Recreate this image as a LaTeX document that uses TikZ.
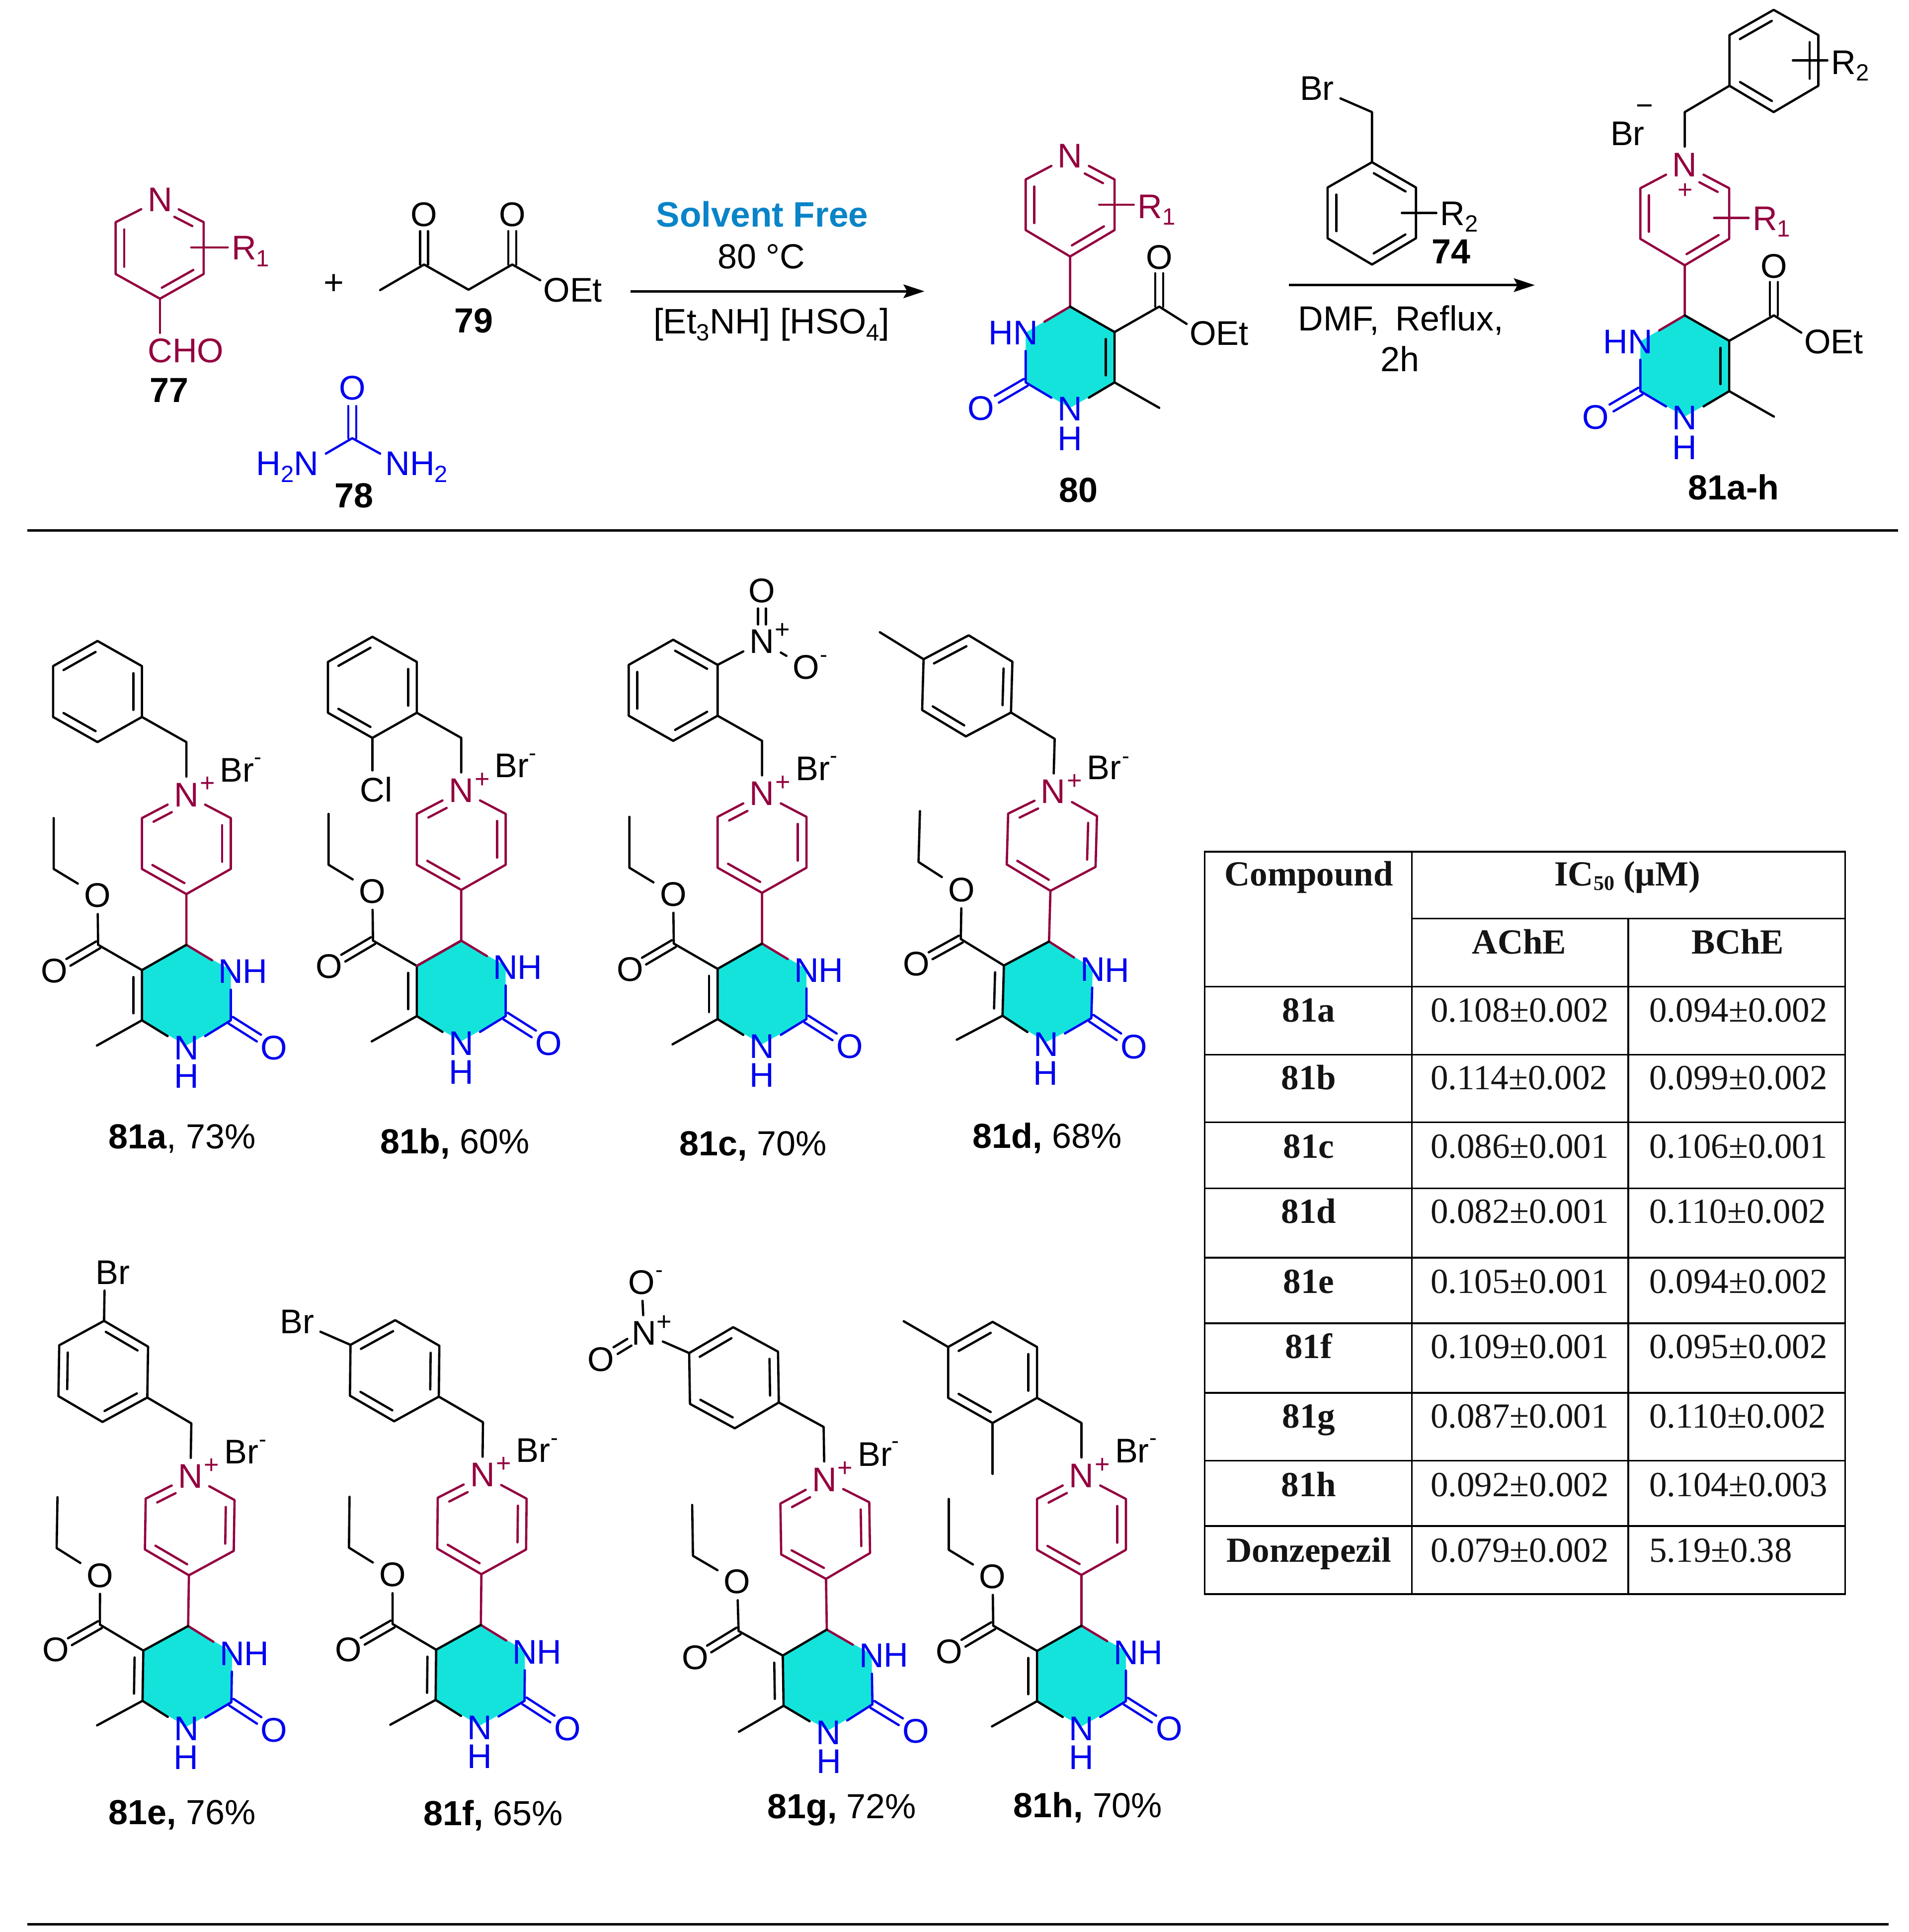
\documentclass[tikz,border=0pt]{standalone}
\usepackage{fontspec}
\setmainfont{Liberation Sans}
\newfontfamily\tabfont{Liberation Serif}
\usetikzlibrary{calc,arrows.meta}
\definecolor{mar}{HTML}{93003F}
\definecolor{blu}{HTML}{0000F0}
\definecolor{teal1}{HTML}{14E3DC}
\definecolor{solv}{HTML}{0A84C8}
\newcommand\af{\fontsize{27.7}{30}\selectfont}
\newcommand\lf{\fontsize{28.2}{30}\selectfont}
\newcommand\tf{\tabfont\fontsize{28.6}{30}\selectfont}
\newcommand\subsc[1]{\raisebox{-5.5pt}{\fontsize{19}{19}\selectfont #1}}
\tikzset{
 bond/.style={line width=1.85pt,line cap=round,line join=round},
 mb/.style={bond,draw=mar},
 bb/.style={bond,draw=blu},
 atom/.style={inner sep=5pt,font=\af,text=black},
 matom/.style={atom,text=mar},
 batom/.style={atom,text=blu},
 txt/.style={inner sep=0pt,font=\af,anchor=base west},
 clabel/.style={inner sep=0pt,font=\lf,anchor=base west},
 ctext/.style={inner sep=0pt,font=\lf,anchor=base},
 tcell/.style={inner sep=0pt,font=\tf,anchor=base,text=black!92},
 tval/.style={inner sep=0pt,font=\tf,anchor=base west,text=black!92},
 tline/.style={line width=1.4pt,draw=black},
 rarrow/.style={line width=1.9pt,-{Stealth[length=17pt,width=11pt,inset=3pt]}},
 plussign/.style={inner sep=0pt,font=\fontsize{21}{21}\selectfont,text=mar},
 minussign/.style={inner sep=0pt,font=\fontsize{18}{18}\selectfont,text=black},
}
% inner line of a ring double bond, right of travel a -> b
\newcommand\dblf[5][bond]{\draw[#1] ($($(#2)!#4!(#3)$)!7pt!-90:(#3)$) -- ($($(#2)!#5!(#3)$)!7pt!-90:(#3)$);}
\newcommand\dbl[3][bond]{\dblf[#1]{#2}{#3}{.14}{.86}}
% symmetric pair of lines a -> b from distance s to e
\newcommand\dbe[5][bond]{\draw[#1] ($($(#2)!#4!(#3)$)!3.2pt!90:(#3)$) -- ($($(#2)!#5!(#3)$)!3.2pt!90:(#3)$);
 \draw[#1] ($($(#2)!#4!(#3)$)!3.2pt!-90:(#3)$) -- ($($(#2)!#5!(#3)$)!3.2pt!-90:(#3)$);}
% product template: [rot]{prefix}{x}{y}{double-bond type}{extra}
\newcommand\mol[6][0]{%
\begin{scope}[shift={(#3,#4)},rotate=#1,yscale=.993]
 \coordinate (#2ch) at (0,0);
 \coordinate (#2r1) at (-36,-20.5);
 \coordinate (#2r2) at (-36,-62);
 \coordinate (#2r3) at (-72,-82.5);
 \coordinate (#2r4) at (-108,-62);
 \coordinate (#2r5) at (-108,-20.5);
 \coordinate (#2r6) at (-72,0);
 \coordinate (#2ul) at (-36,62);
 \coordinate (#2ur) at (36,62);
 \coordinate (#2lr) at (36,103.5);
 \coordinate (#2ll) at (-36,103.5);
 \coordinate (#2pb) at (0,124);
 \coordinate (#2c4) at (0,165.4);
 \coordinate (#2c5) at (-36,186);
 \coordinate (#2c6) at (-36,227);
 \coordinate (#2c2) at (36,227);
 \coordinate (#2vn1) at (0,247.5);
 \coordinate (#2vn3) at (36,186);
 \coordinate (#2me) at (-72.5,247.6);
 \coordinate (#2ec) at (-71.5,165.4);
 \coordinate (#2e1) at (-107.5,103.5);
 \coordinate (#2e2) at (-107.5,62);
 \fill[teal1] (#2c4)--(#2c5)--(#2c6)--(#2vn1)--(#2c2)--(#2vn3)--cycle;
 \node[matom] (#2Np) at (0,43) {N};
 \node[plussign] (#2pl) at (17,34.6) {+};
 \node[txt] (#2Br) at (27,32.3) {Br};
 \node[minussign] (#2mi) at (58,15.5) {-};
 \node[batom] (#2N1) at (0,249.3) {N};
 \node[batom,inner sep=0pt] (#2H1) at (0,272.8) {H};
 \node[batom] (#2N3) at (36,187.2) {N};
 \node[batom,inner sep=0pt] (#2H3) at (55.7,187.2) {H};
 \node[batom] (#2O2) at (71,249.3) {O};
 \node[atom] (#2O5) at (-107,186.5) {O};
 \node[atom] (#2Oe) at (-72,125.2) {O};
 \draw[bond] (#2r1)--(#2r2)--(#2r3)--(#2r4)--(#2r5)--(#2r6)--cycle;
 \ifnum#5=1
  \dbl{#2r2}{#2r1}\dbl{#2r4}{#2r3}\dbl{#2r6}{#2r5}
 \else
  \dbl{#2r3}{#2r2}\dbl{#2r5}{#2r4}\dbl{#2r1}{#2r6}
 \fi
 \draw[bond] (#2r1)--(#2ch)--(#2Np);
 \draw[mb] (#2Np)--(#2ur)--(#2lr)--(#2pb)--(#2ll)--(#2ul)--(#2Np);
 \dbl[mb]{#2ur}{#2lr}\dbl[mb]{#2pb}{#2ll}\dblf[mb]{#2ul}{#2Np}{.17}{.58}
 \draw[mb] (#2pb)--(#2c4)--(#2N3);
 \draw[bond] (#2c4)--(#2c5)--(#2c6)--(#2N1);
 \dbl{#2c5}{#2c6}
 \draw[bond] (#2c6)--(#2me);
 \draw[bb] (#2N1)--(#2c2)--(#2N3);
 \dbe[bb]{#2c2}{#2O2}{0pt}{27pt}
 \draw[bond] (#2c5)--(#2ec)--(#2Oe)--(#2e1)--(#2e2);
 \dbe{#2ec}{#2O5}{0pt}{28pt}
 #6
\end{scope}}
% upper intermediates: {prefix}{x}{y} at C4
\newcommand\topcore[3]{%
\begin{scope}[shift={(#2,#3)}]
 \coordinate (#1pb) at (0,-40.6);
 \coordinate (#1lr) at (36,-62);
 \coordinate (#1ur) at (36,-103);
 \coordinate (#1ul) at (-36,-103);
 \coordinate (#1ll) at (-36,-62);
 \coordinate (#1c4) at (0,0);
 \coordinate (#1c5) at (36,20.6);
 \coordinate (#1c6) at (36,61.4);
 \coordinate (#1c2) at (-36,61.4);
 \coordinate (#1vn1) at (0,82);
 \coordinate (#1vn3) at (-36,21);
 \coordinate (#1me) at (72.2,82);
 \coordinate (#1ec) at (72.2,0);
 \coordinate (#1oe) at (94.4,14);
 \fill[teal1] (#1c4)--(#1c5)--(#1c6)--(#1vn1)--(#1c2)--(#1vn3)--cycle;
 \node[matom] (#1N) at (0,-122) {N};
 \node[batom] (#1N1) at (0,82.8) {N};
 \node[batom,inner sep=0pt] (#1H1) at (0,107) {H};
 \node[batom] (#1N3) at (-36,21.2) {N};
 \node[batom,inner sep=0pt] (#1H3) at (-56,21.2) {H};
 \node[batom] (#1O2) at (-72.3,82.6) {O};
 \node[atom] (#1O5) at (72.2,-39.8) {O};
 \node[txt] (#1OEt) at (96.6,31) {OEt};
 \draw[mb] (#1N)--(#1ur)--(#1lr)--(#1pb)--(#1ll)--(#1ul)--(#1N);
 \dbl[mb]{#1lr}{#1pb}\dbl[mb]{#1ll}{#1ul}\dblf[mb]{#1N}{#1ur}{.42}{.83}
 \draw[mb] (#1pb)--(#1c4)--(#1N3);
 \draw[bond] (#1c4)--(#1c5)--(#1c6)--(#1N1);
 \dbl{#1c5}{#1c6}
 \draw[bond] (#1c6)--(#1me);
 \draw[bb] (#1N1)--(#1c2)--(#1N3);
 \dbe[bb]{#1c2}{#1O2}{0pt}{27pt}
 \draw[bond] (#1c5)--(#1ec)--(#1oe);
 \dbe{#1ec}{#1O5}{0pt}{27pt}
\end{scope}}
\begin{document}
\begin{tikzpicture}[x=1pt,y=-1pt]
\useasboundingbox (0,0) rectangle (1546.3,1565.2);
\fill[white] (0,0) rectangle (1546.3,1565.2);
% --- 77
\coordinate (a1) at (93.7,180); \coordinate (a2) at (165,180); \coordinate (a3) at (165,222);
\coordinate (a4) at (129.6,242); \coordinate (a5) at (93.7,222);
\coordinate (acho) at (129.6,269.7); \coordinate (ar) at (155,200.4);
\node[matom] (aN) at (129.6,161.8) {N};
\draw[mb] (aN)--(a2)--(a3)--(a4)--(a5)--(a1)--(aN);
\dbl[mb]{a3}{a4}\dbl[mb]{a5}{a1}\dblf[mb]{aN}{a2}{.42}{.83}
\draw[mb] (a4)--(acho);
\node[txt,text=mar,inner sep=3pt] (aR) at (184.5,210.5) {R\subsc{1}};
\draw[mb] (ar)--(aR.west|-ar);
\node[txt,text=mar] (aCHO) at (119.5,293.6) {CHO};
\node[ctext] (l77) at (137,326) {\textbf{77}};
\node[inner sep=0pt,font=\lf] (plus1) at (270.6,230.5) {+};
% --- 79
\coordinate (b1) at (308,235); \coordinate (b2) at (343.6,214.3); \coordinate (b3) at (379.6,234.7);
\coordinate (b4) at (415,214.3); \coordinate (b5) at (437.7,227);
\node[atom] (bO1) at (343.6,173.7) {O};
\node[atom] (bO2) at (415,173.7) {O};
\draw[bond] (b1)--(b2)--(b3)--(b4)--(b5);
\dbe{b2}{bO1}{0pt}{27pt}\dbe{b4}{bO2}{0pt}{27pt}
\node[txt] (bOEt) at (440,244.7) {OEt};
\node[ctext] (l79) at (384,269.6) {\textbf{79}};
% --- 78
\coordinate (u1) at (285.4,355); \coordinate (u2) at (264,367.5); \coordinate (u3) at (308,367.5);
\node[batom] (uO) at (285.4,314.5) {O};
\draw[bb] (u2)--(u1)--(u3);
\dbe[bb]{u1}{uO}{0pt}{26pt}
\node[txt,text=blu] (uL) at (207.5,385) {H\subsc{2}N};
\node[txt,text=blu] (uR) at (312,385) {NH\subsc{2}};
\node[ctext] (l78) at (286.8,411.2) {\textbf{78}};
% --- conditions 1
\node[ctext,text=solv,font=\fontsize{28.6}{30}\selectfont] (s1) at (617.5,183.8) {\textbf{Solvent Free}};
\node[ctext] (s2) at (617,217.5) {80 °C};
\node[ctext,font=\fontsize{28.6}{30}\selectfont] (s3) at (625,270.5) {[Et\subsc{3}NH] [HSO\subsc{4}]};
\coordinate (ar1a) at (511,236); \coordinate (ar1b) at (749,236);
\draw[rarrow] (ar1a)--(ar1b);
% --- 80
\topcore{c}{867}{248.4}
\coordinate (cr) at (890.6,165.8);
\node[txt,text=mar,inner sep=3pt] (cR) at (918.5,176.8) {R\subsc{1}};
\draw[mb] (cr)--(cR.west|-cr);
\node[ctext] (l80) at (873.7,406.8) {\textbf{80}};
% --- 74
\coordinate (d0) at (1111.6,90.8); \coordinate (d1) at (1111.6,131.4); \coordinate (d2) at (1147.2,151.9);
\coordinate (d3) at (1147.2,193); \coordinate (d4) at (1111.6,214.3); \coordinate (d5) at (1075.6,193);
\coordinate (d6) at (1075.6,151.9); \coordinate (dr) at (1135.8,172.6);
\node[atom] (dBr) at (1067,71.5) {Br};
\draw[bond] (dBr)--(d0)--(d1);
\draw[bond] (d1)--(d2)--(d3)--(d4)--(d5)--(d6)--cycle;
\dbl{d1}{d2}\dbl{d3}{d4}\dbl{d5}{d6}
\node[txt,inner sep=3pt] (dR) at (1163.7,182.5) {R\subsc{2}};
\draw[bond] (dr)--(dR.west|-dr);
\node[ctext] (l74) at (1175.7,213.4) {\textbf{74}};
\coordinate (ar2a) at (1044.4,231); \coordinate (ar2b) at (1243.5,231);
\draw[rarrow] (ar2a)--(ar2b);
\node[ctext] (s4) at (1135,268) {DMF,\hspace{13pt}Reflux,};
\node[ctext] (s5) at (1134.4,301) {2h};
% --- 81a-h generic
\topcore{e}{1365}{255.5}
\node[plussign] (ePl) at (1365.4,154.7) {+};
\coordinate (er) at (1388.8,176.6);
\node[txt,text=mar,inner sep=3pt] (eR) at (1416.7,186.5) {R\subsc{1}};
\draw[mb] (er)--(eR.west|-er);
\coordinate (f0) at (1365,90.8); \coordinate (f1) at (1401.2,69.5); \coordinate (f2) at (1401.2,28.4);
\coordinate (f3) at (1437,8); \coordinate (f4) at (1473.2,28.4); \coordinate (f5) at (1473.2,69.5);
\coordinate (f6) at (1437,90.8); \coordinate (fr) at (1452.6,49);
\draw[bond] (eN)--(f0)--(f1)--(f2)--(f3)--(f4)--(f5)--(f6)--(f1);
\dbl{f2}{f3}\dbl{f4}{f5}\dbl{f6}{f1}
\node[txt,inner sep=3pt] (fR) at (1480.5,60) {R\subsc{2}};
\draw[bond] (fr)--(fR.west|-fr);
\node[atom] (fBr) at (1318.6,108.2) {Br};
\node[inner sep=0pt,font=\fontsize{24}{24}\selectfont] (fMi) at (1332.6,89) {−};
\node[ctext] (l81) at (1404.5,404.9) {\textbf{81a-h}};
% --- rule
\coordinate (ln1a) at (22,429.6); \coordinate (ln1b) at (1538,429.6);
\draw[line width=2pt] (ln1a)--(ln1b);
\coordinate (ln2a) at (22,1559); \coordinate (ln2b) at (1530,1559);
\draw[line width=2pt] (ln2a)--(ln2b);
% --- products
\mol{ma}{151}{601.2}{1}{}
\mol{mb}{373.7}{597.8}{1}{
 \node[atom] (mbCl) at (-69,42) {Cl};
 \draw[bond] (mbr6)--(mbr6|-mbCl.north);
 \draw[mb] (mbc4)--(mbc5);}
\mol{mc}{617.4}{600.2}{2}{
 \node[atom] (mcN) at (0,-81) {N};
 \node[plussign,text=black] (mcP) at (16.7,-89.7) {+};
 \node[atom] (mcO1) at (0,-122.4) {O};
 \node[atom] (mcO2) at (35.7,-60) {O};
 \node[minussign] (mcM) at (50,-67) {-};
 \draw[bond] (mcr2)--(mcN)--(mcO2);
 \dbe{mcN}{mcO1}{14pt}{27pt}}
\mol[-1.6]{md}{854.5}{598.6}{1}{
 \coordinate (mdm) at (-144,-83);
 \draw[bond] (mdr4)--(mdm);}
\mol[-0.9]{me}{155}{1153.1}{2}{
 \node[atom] (meX) at (-65.4,-122) {Br};
 \draw[bond] (mer3)--(mer3|-meX.south);}
\mol[-0.6]{mf}{391.3}{1152.2}{1}{
 \node[atom] (mfX) at (-151.6,-80.6) {Br};
 \draw[bond] (mfr4)--(mfX);}
\mol[0.9]{mg}{667.3}{1156}{1}{
 \node[atom] (mgN) at (-144.3,-78.7) {N};
 \node[plussign,text=black] (mgP) at (-127.9,-87) {+};
 \node[atom] (mgO1) at (-145.6,-120.3) {O};
 \node[atom] (mgO2) at (-179.6,-57.8) {O};
 \node[minussign] (mgM) at (-131,-126.8) {-};
 \draw[bond] (mgr4)--(mgN)--(mgO1);
 \dbe{mgN}{mgO2}{14pt}{27pt}}
\mol{mh}{876.2}{1152.8}{1}{
 \coordinate (mhm1) at (-144,-83);
 \coordinate (mhm2) at (-72,41.5);
 \draw[bond] (mhr4)--(mhm1);
 \draw[bond] (mhr6)--(mhm2);}
% --- labels
\node[clabel] (la) at (87.8,930.5) {\textbf{81a}, 73\%};
\node[clabel] (lb) at (308,934.7) {\textbf{81b,} 60\%};
\node[clabel] (lc) at (550.3,936) {\textbf{81c,} 70\%};
\node[clabel] (ld) at (788,930) {\textbf{81d,} 68\%};
\node[clabel] (le) at (87.9,1478) {\textbf{81e,} 76\%};
\node[clabel] (lf) at (342.9,1479) {\textbf{81f,} 65\%};
\node[clabel] (lg) at (621.5,1473) {\textbf{81g,} 72\%};
\node[clabel] (lh) at (820.8,1472.4) {\textbf{81h,} 70\%};
% --- table
\coordinate (tl) at (976,690); \coordinate (tr) at (1495,690); \coordinate (bl) at (976,1291.4); \coordinate (br) at (1495,1291.4);
\coordinate (v1t) at (1143.8,690); \coordinate (v1b) at (1143.8,1291.4);
\coordinate (v2t) at (1319.3,744.2); \coordinate (v2b) at (1319.3,1291.4);
\draw[tline] (tl)--(tr)--(br)--(bl)--cycle;
\draw[tline] (v1t)--(v1b);
\draw[tline] (v2t)--(v2b);
\draw[tline] (v1t|-v2t)--(tr|-v2t);
\foreach \yy in {799.4,854.4,909.3,962.7,1018.9,1072.1,1128.4,1183.3,1236.3} \draw[tline] (tl|-0,\yy)--(tr|-0,\yy);
\node[tcell] (h1) at (1060.4,717.4) {\textbf{Compound}};
\node[tcell] (h2) at (1318.6,717.4) {\textbf{IC\raisebox{-4pt}{\fontsize{17}{17}\selectfont 50} (µM)}};
\node[tcell] (h3) at (1230.9,772.7) {\textbf{AChE}};
\node[tcell] (h4) at (1408,772.7) {\textbf{BChE}};
\newcommand\trow[5]{%
 \node[tcell] (t#1a) at (1060.4,#2) {\textbf{#3}};
 \node[tval] (t#1b) at (1158.8,#2) {#4};
 \node[tval] (t#1c) at (1336,#2) {#5};}
\trow{1}{827.9}{81a}{0.108±0.002}{0.094±0.002}
\trow{2}{882.7}{81b}{0.114±0.002}{0.099±0.002}
\trow{3}{938}{81c}{0.086±0.001}{0.106±0.001}
\trow{4}{991}{81d}{0.082±0.001}{0.110±0.002}
\trow{5}{1047.5}{81e}{0.105±0.001}{0.094±0.002}
\trow{6}{1100.3}{81f}{0.109±0.001}{0.095±0.002}
\trow{7}{1156.8}{81g}{0.087±0.001}{0.110±0.002}
\trow{8}{1212.3}{81h}{0.092±0.002}{0.104±0.003}
\trow{9}{1265.5}{Donzepezil}{0.079±0.002}{5.19±0.38}
\end{tikzpicture}
\end{document}
